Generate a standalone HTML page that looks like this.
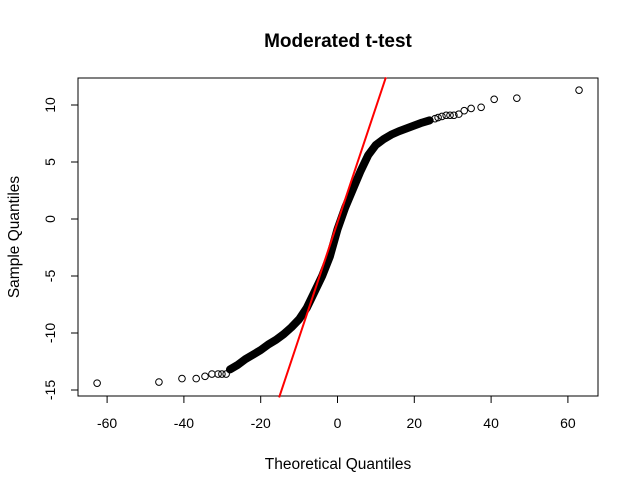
<!DOCTYPE html>
<html><head><meta charset="utf-8"><style>
body{margin:0;background:#fff;}
svg text{font-family:"Liberation Sans",Arial,sans-serif;}
</style></head><body>
<svg id="chart" width="639" height="493" xmlns="http://www.w3.org/2000/svg">
<rect width="639" height="493" fill="#fff"/>
<text x="338" y="47" text-anchor="middle" font-size="19" font-weight="bold">Moderated t-test</text>
<rect x="78" y="78" width="520" height="318" fill="none" stroke="#000"/>
<text x="338" y="469" text-anchor="middle" font-size="15.5">Theoretical Quantiles</text>
<text transform="translate(19,237) rotate(-90)" text-anchor="middle" font-size="15.5">Sample Quantiles</text>
<g id="axes"></g>
<g id="marks"></g>
</svg>
<script>
const xTicks=[-60,-40,-20,0,20,40,60];
const yTicks=[-15,-10,-5,0,5,10];
const tailX=[-62.6,-46.5,-40.5,-36.8,-34.5,-32.7,-31.1,-30.1,-29.0,25.4,26.2,27.2,28.3,29.3,30.3,31.6,33.0,34.8,37.4,40.8,46.7,62.9];
const tailY=[-14.4,-14.3,-14.0,-14.0,-13.8,-13.6,-13.6,-13.6,-13.6,8.8,8.9,9.0,9.1,9.1,9.1,9.2,9.5,9.7,9.8,10.5,10.6,11.3];
const bodyX=[-28,-26,-24,-22,-20,-18,-16,-14,-12,-10,-8,-6,-4,-2,0,2,4,6,8,10,12,14,16,18,20,22,24];
const bodyY=[-13.2,-12.8,-12.3,-11.9,-11.5,-11.0,-10.6,-10.1,-9.5,-8.8,-7.8,-6.4,-5.0,-3.3,-0.9,1.0,2.6,4.2,5.6,6.5,7.0,7.4,7.7,7.95,8.2,8.45,8.65];
const lineIntercept=[-0.3];
const lineSlope=[1.01];
const NS="http://www.w3.org/2000/svg";
const sx=v=>337.5+v*3.84, sy=v=>219-v*11.4;
const axes=document.getElementById('axes'), marks=document.getElementById('marks');
function mk(t,a,p){const e=document.createElementNS(NS,t);for(const k in a)e.setAttribute(k,a[k]);p.appendChild(e);return e;}
xTicks.forEach(v=>{
  const l=mk('line',{x1:sx(v),x2:sx(v),y1:396,y2:403,stroke:'#000'},axes);
  
  
  const t=mk('text',{x:sx(v),y:428,'text-anchor':'middle','font-size':14},axes);t.textContent=v;
  
  
});
yTicks.forEach(v=>{
  const l=mk('line',{x1:71,x2:78,y1:sy(v),y2:sy(v),stroke:'#000'},axes);
  
  
  const t=mk('text',{transform:`translate(55,${sy(v)}) rotate(-90)`,'text-anchor':'middle','font-size':14},axes);t.textContent=v;
  
  
});
let d='';bodyX.forEach((v,i)=>{d+=(i?'L':'M')+sx(v)+','+sy(bodyY[i]);});
const band=mk('path',{d:d,fill:'none',stroke:'#000','stroke-width':8,'stroke-linejoin':'round','stroke-linecap':'round'},marks);


tailX.forEach((v,i)=>{
  const c=mk('circle',{cx:sx(v),cy:sy(tailY[i]),r:3.3,fill:'none',stroke:'#000'},marks);
  
  
});
const xa=-15.2,xb=12.6;
const rl=mk('line',{x1:sx(xa),y1:sy(lineIntercept[0]+lineSlope[0]*xa),x2:sx(xb),y2:sy(lineIntercept[0]+lineSlope[0]*xb),stroke:'#f00','stroke-width':2},marks);


</script>
</body></html>
